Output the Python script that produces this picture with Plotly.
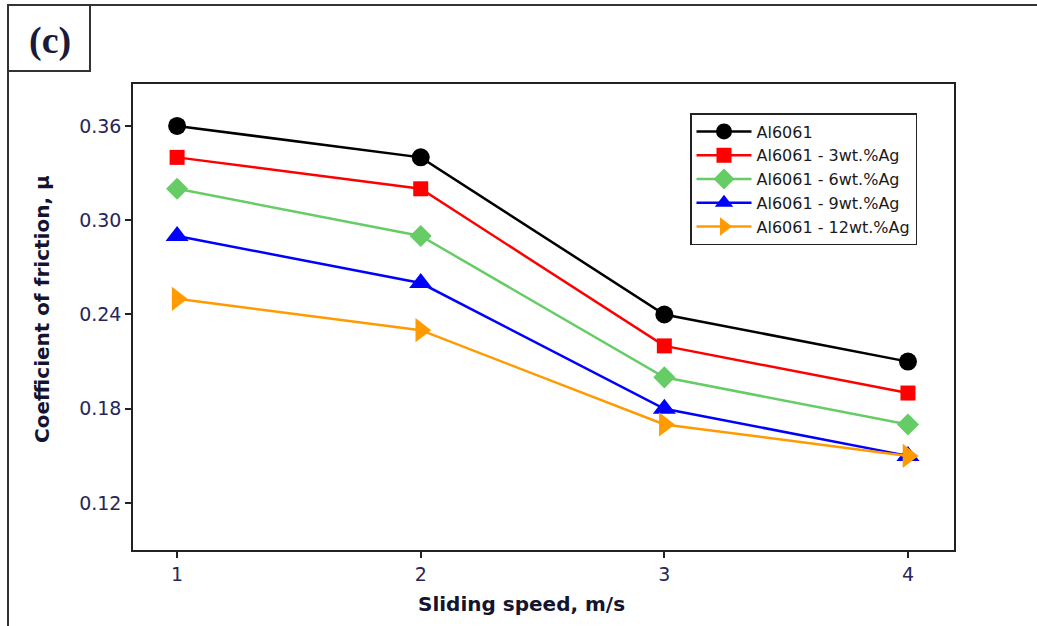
import plotly.graph_objects as go

speed = [1, 2, 3, 4]
al6061 = [0.36, 0.34, 0.24, 0.21]
ag3 = [0.34, 0.32, 0.22, 0.19]
ag6 = [0.32, 0.29, 0.20, 0.17]
ag9 = [0.29, 0.26, 0.18, 0.15]
ag12 = [0.25, 0.23, 0.17, 0.15]

names = ["Al6061", "Al6061 - 3wt.%Ag", "Al6061 - 6wt.%Ag", "Al6061 - 9wt.%Ag", "Al6061 - 12wt.%Ag"]
series = [al6061, ag3, ag6, ag9, ag12]
colors = ["#000000", "#ff0000", "#66cc66", "#0000ff", "#ff9a00"]
symbols = ["circle", "square", "diamond", "triangle-up", "triangle-right"]
sizes = [18, 15, 17, 20, 21]

y_ticks = [0.12, 0.18, 0.24, 0.30, 0.36]

fig = go.Figure()
for name, ys, c, s, sz in zip(names, series, colors, symbols, sizes):
    fig.add_trace(go.Scatter(
        x=speed, y=ys, name=name, mode="lines+markers",
        line=dict(color=c, width=2.5),
        marker=dict(color=c, symbol=s, size=sz, line=dict(width=0)),
    ))

W, H = 1037, 626
L, R, T, B = 133, 954, 84, 550


def px(xp):
    return (xp - L) / (R - L)


def py(yp):
    return (B - yp) / (B - T)


tick_font = dict(family="DejaVu Sans", size=19, color="#26265a")
fig.update_layout(
    width=W, height=H,
    margin=dict(l=L, r=W - R, t=T, b=H - B, pad=0),
    paper_bgcolor="white", plot_bgcolor="white",
    showlegend=True,
    legend=dict(
        x=px(690), y=py(113), xanchor="left", yanchor="top",
        bordercolor="#222222", borderwidth=1.5, bgcolor="white",
        font=dict(family="DejaVu Sans", size=16, color="#1a1a1a"),
        tracegroupgap=0, itemsizing="trace", itemwidth=55,
    ),
    xaxis=dict(
        range=[0.819, 4.189], tickmode="array", tickvals=speed,
        ticktext=[str(v) for v in speed],
        showgrid=False, zeroline=False, showline=True, linecolor="#222222",
        linewidth=1.5, mirror=True, ticks="outside", ticklen=6, tickwidth=1.5,
        tickcolor="#222222", tickfont=tick_font,
    ),
    yaxis=dict(
        range=[0.0901, 0.3867], tickmode="array", tickvals=y_ticks,
        ticktext=[f"{v:.2f}" for v in y_ticks],
        showgrid=False, zeroline=False, showline=True, linecolor="#222222",
        linewidth=1.5, mirror=True, ticks="outside", ticklen=6, tickwidth=1.5,
        tickcolor="#222222", tickfont=tick_font,
    ),
)

# axis titles as annotations for exact placement
fig.add_annotation(
    text="Sliding speed, m/s", xref="paper", yref="paper",
    x=px(521), y=py(604), xanchor="center", yanchor="middle", showarrow=False,
    font=dict(family="DejaVu Sans", size=20, color="#141430", weight="bold"),
)
fig.add_annotation(
    text="Coefficient of friction, μ", xref="paper", yref="paper",
    x=px(42), y=py(309), xanchor="center", yanchor="middle", showarrow=False,
    textangle=-90,
    font=dict(family="DejaVu Sans", size=20, color="#141430", weight="bold"),
)
# panel label
fig.add_annotation(
    text="<b>(c)</b>", xref="paper", yref="paper",
    x=px(50), y=py(40), xanchor="center", yanchor="middle", showarrow=False,
    font=dict(family="Liberation Serif", size=38, color="#1a1a3a"),
)

# outer frame lines and label box
fig.add_shape(type="line", xref="paper", yref="paper",
              x0=px(8), x1=px(8), y0=py(5), y1=py(626),
              line=dict(color="#333333", width=2))
fig.add_shape(type="line", xref="paper", yref="paper",
              x0=px(8), x1=px(1037), y0=py(5), y1=py(5),
              line=dict(color="#333333", width=2))
fig.add_shape(type="rect", xref="paper", yref="paper",
              x0=px(8), x1=px(90), y0=py(5), y1=py(71),
              line=dict(color="#333333", width=2))

fig.write_html("out.html")
